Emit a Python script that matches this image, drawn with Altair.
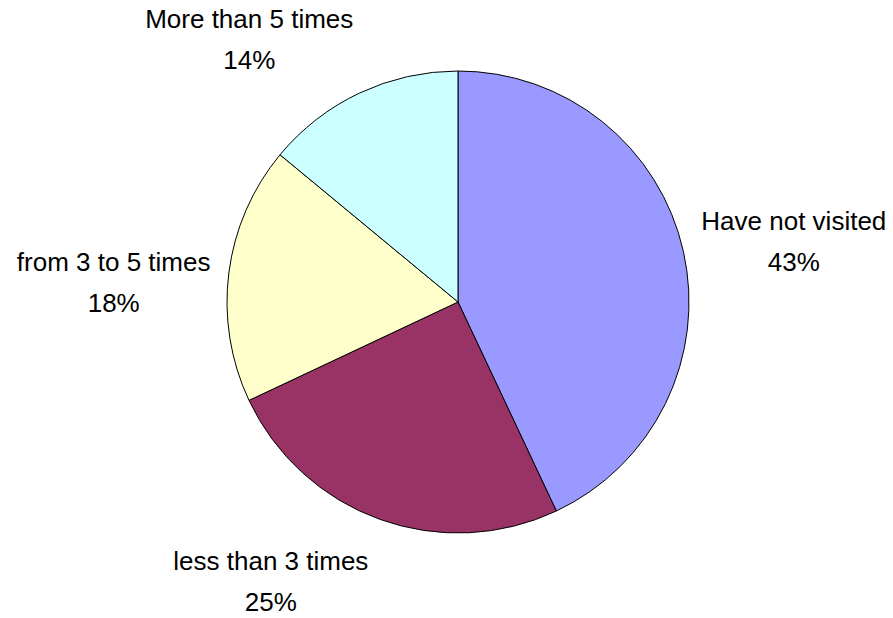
import altair as alt
import pandas as pd

categories = ["Have not visited", "less than 3 times", "from 3 to 5 times", "More than 5 times"]
percents = [43, 25, 18, 14]
colors = ["#9999FF", "#993366", "#FFFFCC", "#CCFFFF"]

df = pd.DataFrame({"category": categories, "value": percents,
                   "order": list(range(len(categories)))})

CX, CY = 450, 294
R = 231
LABEL_R = 340
LINE_GAP = 41
label_shift = {
    "Have not visited": (4, -6),
    "less than 3 times": (-72, -60),
    "from 3 to 5 times": (-7, 4),
    "More than 5 times": (-64, 26),
}

base = alt.Chart(df)

pie = base.mark_arc(outerRadius=R, stroke="black", strokeWidth=1).encode(
    theta=alt.Theta("value:Q", stack=True),
    order=alt.Order("order:Q"),
    color=alt.Color("category:N", scale=alt.Scale(domain=categories, range=colors), legend=None),
    x=alt.value(CX),
    y=alt.value(CY),
)

lab = base.transform_window(
    cum="sum(value)", sort=[alt.SortField("order")]
).transform_calculate(
    mid="(datum.cum - datum.value / 2) / 100",
    pct="datum.value + '%'",
)

layers = [pie]
for cat, (dx, dy) in label_shift.items():
    for field, extra in (("category", 0), ("pct", LINE_GAP)):
        layers.append(
            lab.transform_filter(alt.datum.category == cat).mark_text(
                radius=LABEL_R, dx=dx, dy=dy + extra, fontSize=26, font="Liberation Sans",
                color="black", align="center", baseline="middle",
            ).encode(
                theta=alt.Theta("mid:Q", scale=alt.Scale(domain=[0, 1]), stack=False),
                text=alt.Text(f"{field}:N"),
                x=alt.value(CX),
                y=alt.value(CY),
            )
        )

chart = alt.layer(*layers).resolve_scale(theta="independent").properties(
    width=877, height=604, autosize=alt.AutoSizeParams(type="none"), padding=0,
    background="white",
).configure_view(stroke=None)

chart.save("out.html", embed_options={"renderer": "svg", "actions": False})
